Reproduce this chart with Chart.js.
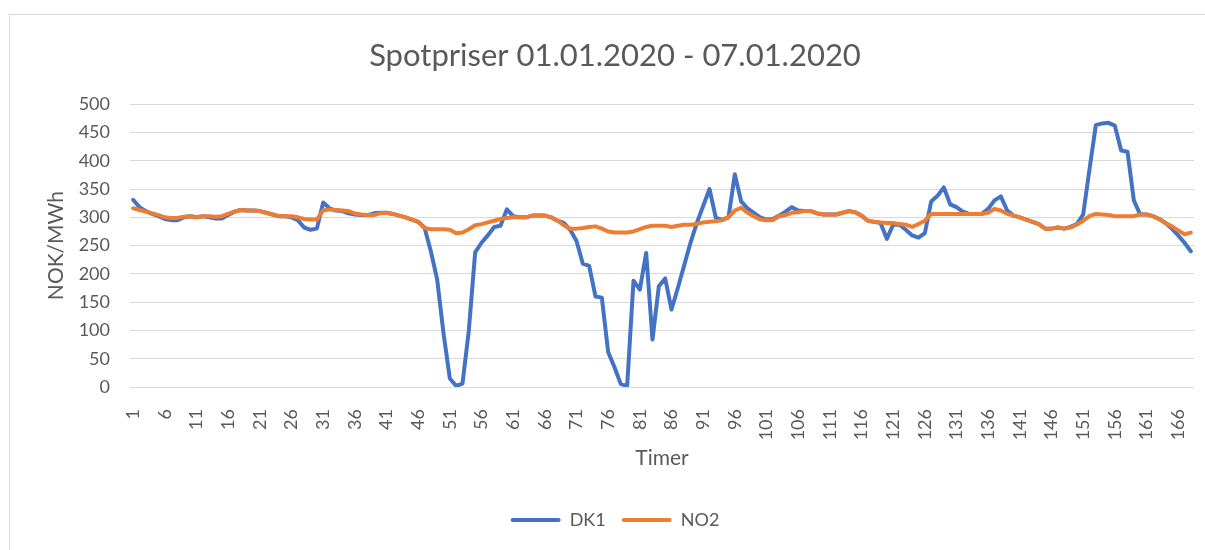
<!DOCTYPE html>
<html>
<head>
<meta charset="utf-8">
<script src="https://cdn.jsdelivr.net/npm/chart.js@4.4.1/dist/chart.umd.min.js"></script>
<style>
  html, body { margin: 0; padding: 0; overflow: hidden; background: #fff; }
  #frame { position: absolute; left: 9px; top: 14px; width: 1240px; height: 600px; border: 1px solid #d9d9d9; }
  #wrap { position: absolute; left: 36px; top: 0; width: 1194px; height: 550px; }
</style>
</head>
<body>
<div id="frame"></div>
<div id="wrap"><canvas id="spotChart"></canvas></div>
<script>
// Timer 1-168 (01.01.2020 - 07.01.2020)
const hours = Array.from({ length: 168 }, (_, i) => i + 1);

// Spotpris DK1, NOK/MWh
const dk1 = [
  331, 318, 311, 306, 302, 297, 295, 295, 300, 302,
  300, 302, 300, 298, 298, 304, 310, 313, 312, 312,
  311, 308, 305, 302, 302, 300, 295, 282, 278, 280,
  326, 316, 312, 311, 307, 305, 304, 304, 307, 308,
  308, 306, 303, 300, 296, 292, 282, 240, 190, 95,
  15, 2, 6, 100, 238, 255, 268, 283, 285, 314,
  302, 300, 300, 303, 303, 303, 300, 294, 290, 278,
  258, 218, 214, 160, 158, 62, 35, 5, 2, 188,
  172, 237, 84, 178, 192, 137, 175, 215, 255, 290,
  320, 350, 299, 296, 300, 376, 328, 316, 308, 300,
  296, 297, 303, 310, 318, 312, 311, 311, 307, 305,
  305, 305, 308, 311, 309, 303, 294, 292, 290, 262,
  287, 287, 278, 268, 264, 272, 328, 338, 353, 323,
  318, 310, 306, 306, 306, 315, 330, 337, 312, 303,
  300, 296, 292, 288, 280, 280, 282, 280, 283, 288,
  305, 385, 463, 466, 467, 462, 418, 416, 330, 305,
  305, 302, 297, 290, 280, 268, 255, 240
];

// Spotpris NO2, NOK/MWh
const no2 = [
  316, 313, 310, 307, 304, 300, 299, 299, 301, 302,
  300, 302, 302, 301, 302, 306, 310, 313, 312, 312,
  311, 308, 305, 302, 302, 302, 300, 297, 296, 296,
  312, 314, 313, 312, 311, 307, 305, 304, 304, 307,
  308, 306, 303, 300, 296, 292, 281, 279, 279, 279,
  278, 272, 273, 279, 286, 288, 291, 294, 297, 299,
  300, 300, 300, 303, 303, 303, 300, 294, 286, 280,
  280, 281, 283, 284, 280, 275, 273, 273, 273, 275,
  279, 283, 285, 285, 285, 283, 285, 287, 287, 288,
  291, 292, 293, 295, 300, 312, 317, 308, 302, 296,
  295, 295, 302, 304, 308, 309, 311, 311, 307, 305,
  305, 305, 308, 311, 309, 303, 294, 292, 291, 290,
  290, 288, 287, 283, 288, 294, 306, 306, 306, 306,
  306, 306, 306, 306, 306, 308, 315, 312, 306, 303,
  300, 296, 292, 288, 280, 280, 282, 280, 282, 287,
  294, 302, 306, 305, 304, 302, 302, 302, 302, 305,
  305, 302, 297, 290, 284, 277, 270, 273
];

const textColor = '#595959';
const gridColor = '#d9d9d9';
const fontFamily = 'Lato, "Open Sans", sans-serif';

const ctx = document.getElementById('spotChart').getContext('2d');

const spotChart = new Chart(ctx, {
    type: 'line',
    data: {
        labels: hours,
        datasets: [{
            label: 'DK1',
            data: dk1,
            borderColor: '#4472C4',
            backgroundColor: '#4472C4',
            borderWidth: 4,
            pointRadius: 0,
            tension: 0,
            borderJoinStyle: 'round',
            borderCapStyle: 'round',
            order: 1 // drawn under NO2
        }, {
            label: 'NO2',
            data: no2,
            borderColor: '#ED7D31',
            backgroundColor: '#ED7D31',
            borderWidth: 4,
            pointRadius: 0,
            tension: 0,
            borderJoinStyle: 'round',
            borderCapStyle: 'round',
            order: 0
        }]
    },
    options: {
        responsive: true,
        maintainAspectRatio: false,
        animation: false,
        layout: {
            padding: { left: 0, right: 36, top: 0, bottom: 11 }
        },
        plugins: {
            title: {
                display: true,
                text: 'Spotpriser 01.01.2020 - 07.01.2020',
                color: textColor,
                font: { family: fontFamily, size: 31, weight: 'normal' },
                padding: { top: 37, bottom: 30 }
            },
            legend: {
                position: 'bottom',
                labels: {
                    color: textColor,
                    font: { family: fontFamily, size: 18 },
                    boxWidth: 50,
                    boxHeight: 4,
                    padding: 16,
                    sort: (a, b) => a.datasetIndex - b.datasetIndex,
                    generateLabels: (chart) =>
                        Chart.defaults.plugins.legend.labels.generateLabels(chart).map(item => ({
                            ...item,
                            fillStyle: item.strokeStyle,
                            lineWidth: 0,
                            borderRadius: 2
                        }))
                }
            },
            tooltip: { enabled: false }
        },
        scales: {
            x: {
                offset: true,
                grid: { display: false },
                border: { display: false },
                ticks: {
                    color: textColor,
                    font: { family: fontFamily, size: 18 },
                    autoSkip: false,
                    minRotation: 90,
                    maxRotation: 90,
                    padding: 14,
                    // every fifth hour gets a label
                    callback: function (value, index) {
                        return index % 5 === 0 ? this.getLabelForValue(value) : '';
                    }
                },
                title: {
                    display: true,
                    text: 'Timer',
                    color: textColor,
                    font: { family: fontFamily, size: 21 },
                    padding: { top: 0, bottom: 24 }
                },
                afterFit: (scale) => { scale.height = 108; }
            },
            y: {
                min: 0,
                max: 500,
                grid: { color: gridColor, lineWidth: 1, drawTicks: false },
                border: { display: false },
                ticks: {
                    stepSize: 50,
                    color: textColor,
                    font: { family: fontFamily, size: 18 },
                    padding: 20
                },
                title: {
                    display: true,
                    text: 'NOK/MWh',
                    color: textColor,
                    font: { family: fontFamily, size: 21 },
                    padding: { top: 8, bottom: 0 }
                },
                afterFit: (scale) => { scale.width = 94; }
            }
        }
    }
});
</script>
</body>
</html>
